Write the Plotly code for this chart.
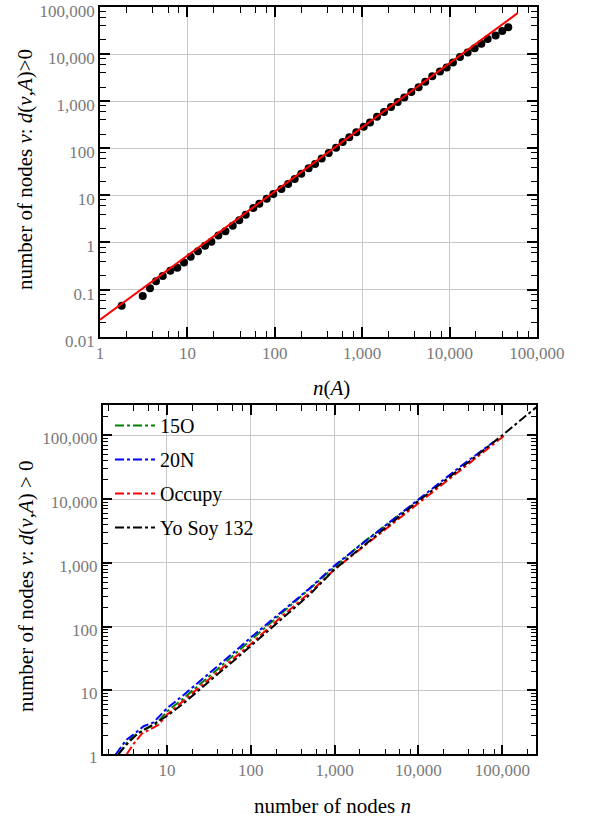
import plotly.graph_objects as go
import numpy as np

# ---------------- data: top panel ----------------
nA = [1.77, 3.08, 3.73, 4.37, 5.22, 6.37, 7.66, 9.14, 10.9, 13.2, 15.9, 18.8, 22.6, 27.2, 33.0,
      39.2, 46.5, 56.8, 66.5, 80.8, 96.2, 119, 142, 169, 201, 244, 289, 344, 414, 502, 598,
      712, 857, 1041, 1228, 1477, 1775, 2136, 2547, 3034, 3648, 4427, 5272, 6339, 7762, 9268,
      10939, 13155, 16106, 19365, 23065, 27290, 33650, 40100, 46950]
nodes_dpos = [0.0455, 0.073, 0.107, 0.150, 0.195, 0.25, 0.29, 0.378, 0.498, 0.649, 0.855, 1.04,
              1.40, 1.73, 2.28, 2.98, 3.87, 5.42, 6.68, 8.51, 10.7, 13.7, 17.4, 22.2, 28.7, 37.8,
              46.7, 60.4, 79.6, 103, 136, 171, 218, 286, 354, 465, 592, 755, 964, 1203, 1570,
              1983, 2587, 3376, 4266, 5214, 6600, 8730, 10880, 13300, 16500, 20900, 25000,
              31100, 37300]
fit_x = [1, 60000]
fit_y = [0.0229, 74000]

# ---------------- data: bottom panel ----------------
x_15O = [2.63, 3.39, 4.17, 5.5, 7.24, 10, 15.8, 25.1, 39.8, 63.1, 100, 224, 501, 1000, 1995, 5012, 10000]
y_15O = [1.0, 1.58, 2.0, 2.51, 2.88, 4.68, 7.59, 12.6, 21.4, 36.3, 61.7, 158, 398, 891, 1905, 4786, 9550]

x_20N = [2.45, 3.24, 3.98, 5.25, 6.92, 10, 15.8, 25.1, 39.8, 63.1, 100, 224, 501, 1000, 3162, 10000, 31623, 79433]
y_20N = [1.0, 1.66, 2.04, 2.75, 3.16, 5.25, 8.51, 14.1, 24.0, 39.8, 67.6, 166, 398, 912, 3020, 9772, 32359, 79433]

x_occ = [3.31, 3.98, 5.01, 6.31, 7.94, 10, 15.8, 25.1, 39.8, 63.1, 100, 224, 501, 1000, 3162, 10000, 31623, 107000]
y_occ = [1.0, 1.45, 2.1, 2.5, 2.9, 4.17, 6.92, 11.5, 19.1, 31.6, 53.7, 138, 339, 794, 2630, 8710, 28840, 100000]

x_yo = [2.63, 3.55, 4.47, 5.62, 7.08, 10, 15.8, 25.1, 39.8, 63.1, 100, 224, 501, 1000, 3162, 10000, 31623, 100000, 254700]
y_yo = [1.0, 1.58, 2.09, 2.51, 2.95, 3.98, 6.31, 10.7, 17.8, 29.5, 50.1, 126, 316, 794, 2754, 9333, 30200, 100000, 275000]

series_names = ["15O", "20N", "Occupy", "Yo Soy 132"]
series_colors = ["#008000", "#0000ff", "#ff0000", "#000000"]

# tick labels
top_xtickvals = [1, 10, 100, 1000, 10000, 100000]
top_xticktext = ["1", "10", "100", "1,000", "10,000", "100,000"]
top_ytickvals = [0.01, 0.1, 1, 10, 100, 1000, 10000, 100000]
top_yticktext = ["0.01", "0.1", "1", "10", "100", "1,000", "10,000", "100,000"]
bot_xtickvals = [10, 100, 1000, 10000, 100000]
bot_xticktext = ["10", "100", "1,000", "10,000", "100,000"]
bot_ytickvals = [1, 10, 100, 1000, 10000, 100000]
bot_yticktext = ["1", "10", "100", "1,000", "10,000", "100,000"]

W, H = 589, 820
FONT = "Liberation Serif"
TICKCOL = "#7a7a7a"
GRIDCOL = "#c8c8c8"


def minor_vals(lo, hi, digits):
    out = []
    for e in range(lo, hi + 1):
        for d in digits:
            out.append(d * 10.0 ** e)
    return out


fig = go.Figure()

# top panel
fig.add_trace(go.Scatter(x=nA, y=nodes_dpos, mode="markers",
                         marker=dict(color="black", size=8),
                         xaxis="x", yaxis="y", showlegend=False))
fig.add_trace(go.Scatter(x=fit_x, y=fit_y, mode="lines",
                         line=dict(color="#ff0000", width=2),
                         xaxis="x", yaxis="y", showlegend=False))

# bottom panel
for name, col, xs, ys in zip(series_names, series_colors,
                             [x_15O, x_20N, x_occ, x_yo], [y_15O, y_20N, y_occ, y_yo]):
    fig.add_trace(go.Scatter(x=xs, y=ys, mode="lines", name=name,
                             line=dict(color=col, width=2, dash="dashdot"),
                             xaxis="x2", yaxis="y2", legendgroup=name))


def px_x(p):
    return p / W


def px_y(p):
    return 1 - p / H


common = dict(type="log", showline=True, linecolor="black", linewidth=1.5, mirror="ticks",
              ticks="inside", ticklen=10, tickwidth=1.5, tickcolor="black",
              showgrid=True, gridcolor=GRIDCOL, gridwidth=1, zeroline=False,
              tickfont=dict(family=FONT, size=17, color=TICKCOL),
              ticklabeloverflow="allow",
              automargin=False, tickmode="array")

fig.update_layout(
    width=W, height=H,
    margin=dict(l=0, r=0, t=0, b=0),
    paper_bgcolor="white", plot_bgcolor="white",
    font=dict(family=FONT, color="black"),
    xaxis=dict(common, domain=[px_x(100), px_x(537)], range=[-0.0005, 5.0005], anchor="y",
               tickvals=top_xtickvals, ticktext=top_xticktext,
               minor=dict(tickmode="array", tickvals=minor_vals(0, 4, [2, 4, 6, 8]),
                          ticks="inside", ticklen=6, tickwidth=1.2, tickcolor="black", showgrid=False)),
    yaxis=dict(common, domain=[px_y(336.7), px_y(7)], range=[-2.0005, 5.0005], anchor="x",
               tickvals=top_ytickvals, ticktext=top_yticktext, ticklabelshift=4,
               minor=dict(tickmode="array", tickvals=minor_vals(-2, 4, [2, 4, 6, 8]),
                          ticks="inside", ticklen=6, tickwidth=1.2, tickcolor="black", showgrid=False)),
    xaxis2=dict(common, domain=[px_x(102.7), px_x(536.3)], range=[0.233, 5.406], anchor="y2",
                tickvals=bot_xtickvals, ticktext=bot_xticktext,
                minor=dict(tickmode="array", tickvals=minor_vals(0, 5, [2, 4, 6, 8]),
                           ticks="inside", ticklen=6, tickwidth=1.2, tickcolor="black", showgrid=False)),
    yaxis2=dict(common, domain=[px_y(754.3), px_y(405)], range=[-0.0005, 5.475], anchor="x2",
                tickvals=bot_ytickvals, ticktext=bot_yticktext, ticklabelshift=3,
                minor=dict(tickmode="array", tickvals=minor_vals(0, 5, [2, 3, 4, 5, 6, 7, 8, 9]),
                           ticks="inside", ticklen=6, tickwidth=1.2, tickcolor="black", showgrid=False)),
    legend=dict(x=px_x(110), y=px_y(406), xanchor="left", yanchor="top",
                bgcolor="rgba(0,0,0,0)", borderwidth=0,
                font=dict(family=FONT, size=20, color="black"),
                itemwidth=40, tracegroupgap=5, traceorder="grouped"),
    annotations=[
        dict(text="number of nodes <i>v</i>: <i>d</i>(<i>v</i>,<i>A</i>)>0", textangle=-90,
             x=px_x(25), y=px_y(170), xref="paper", yref="paper", showarrow=False,
             xanchor="center", yanchor="middle", font=dict(family=FONT, size=21, color="black")),
        dict(text="number of nodes <i>v</i>: <i>d</i>(<i>v</i>,<i>A</i>) > 0", textangle=-90,
             x=px_x(26), y=px_y(586), xref="paper", yref="paper", showarrow=False,
             xanchor="center", yanchor="middle", font=dict(family=FONT, size=21, color="black")),
        dict(text="<i>n</i>(<i>A</i>)", x=px_x(331), y=px_y(388), xref="paper", yref="paper",
             showarrow=False, xanchor="center", yanchor="middle",
             font=dict(family=FONT, size=21, color="black")),
        dict(text="number of nodes <i>n</i>", x=px_x(332), y=px_y(806), xref="paper", yref="paper",
             showarrow=False, xanchor="center", yanchor="middle",
             font=dict(family=FONT, size=21, color="black")),
    ],
)

fig.write_html("out.html")
